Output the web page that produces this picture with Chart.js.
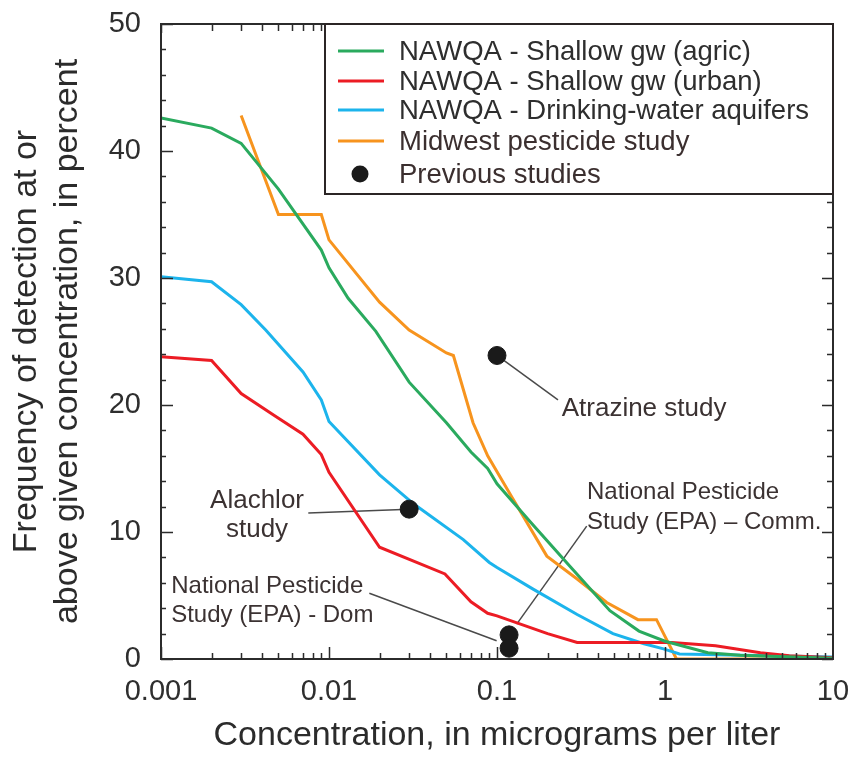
<!DOCTYPE html>
<html><head><meta charset="utf-8">
<script src="https://cdn.jsdelivr.net/npm/chart.js@4/dist/chart.umd.min.js"></script>
<style>html,body{margin:0;padding:0;background:#fff}canvas{display:block}</style>
</head><body>
<canvas id="c" width="862" height="759"></canvas>
<script>
// ---- data ----
const agricConc = [0.001, 0.002, 0.003, 0.005, 0.009, 0.01, 0.013, 0.019, 0.03, 0.05, 0.07, 0.088, 0.1, 0.16, 0.28, 0.47, 0.7, 1.0, 1.8, 2.8, 10];
const agricFreq = [42.6, 41.8, 40.6, 37.0, 32.2, 30.8, 28.4, 25.8, 21.8, 18.6, 16.3, 15.0, 13.8, 10.7, 7.1, 3.8, 2.2, 1.4, 0.5, 0.3, 0.05];

const urbanConc = [0.001, 0.002, 0.003, 0.0047, 0.007, 0.009, 0.01, 0.02, 0.049, 0.07, 0.088, 0.1, 0.2, 0.3, 1.1, 2.0, 3.7, 5.5, 10];
const urbanFreq = [23.8, 23.5, 20.9, 19.2, 17.7, 16.1, 14.7, 8.8, 6.7, 4.5, 3.6, 3.4, 2.0, 1.3, 1.3, 1.05, 0.5, 0.25, 0.1];

const drinkConc = [0.001, 0.002, 0.003, 0.0042, 0.007, 0.009, 0.01, 0.02, 0.032, 0.063, 0.09, 0.1, 0.164, 0.3, 0.49, 0.75, 0.98, 1.22, 10];
const drinkFreq = [30.1, 29.7, 27.9, 25.9, 22.6, 20.4, 18.7, 14.5, 12.2, 9.4, 7.6, 7.2, 5.5, 3.5, 2.0, 1.2, 0.8, 0.4, 0.15];

const midwestConc = [0.003, 0.005, 0.009, 0.01, 0.02, 0.03, 0.05, 0.055, 0.072, 0.088, 0.122, 0.198, 0.3, 0.45, 0.69, 0.89, 1.17, 10];
const midwestFreq = [42.8, 35.0, 35.0, 33.0, 28.1, 25.9, 24.1, 23.9, 18.6, 16.0, 12.8, 8.1, 6.3, 4.45, 3.1, 3.1, 0, 0];

const previousNames = ['Atrazine study', 'Alachlor study', 'National Pesticide Study (EPA) – Comm.', 'National Pesticide Study (EPA) - Dom'];
const previousConc = [0.1, 0.03, 0.118, 0.118];
const previousFreq = [23.9, 11.8, 1.9, 0.85];

const seriesLabels = ['NAWQA - Shallow gw (agric)', 'NAWQA - Shallow gw (urban)', 'NAWQA - Drinking-water aquifers', 'Midwest pesticide study', 'Previous studies'];
const xTickValues = [0.001, 0.01, 0.1, 1, 10];
const xTickLabels = ['0.001', '0.01', '0.1', '1', '10'];
const yTickValues = [0, 10, 20, 30, 40, 50];
const xTitle = 'Concentration, in micrograms per liter';
const yTitle = ['Frequency of detection at or', 'above given concentration, in percent'];

// annotation texts (anchored in data units) and leader lines
const noteTexts = [
  { lines: ['Atrazine study'], at: [0.2427, 19.15], size: 26, gap: 29, align: 'left' },
  { lines: ['Alachlor', 'study'], at: [0.00373, 11.9], size: 26, gap: 29, align: 'center' },
  { lines: ['National Pesticide', 'Study (EPA) - Dom'], at: [0.00115, 5.18], size: 24, gap: 29, align: 'left' },
  { lines: ['National Pesticide', 'Study (EPA) – Comm.'], at: [0.3434, 12.56], size: 24, gap: 30, align: 'left' }
];
const noteLeaders = [
  [[0.1, 23.9], [0.2307, 20.4]],
  [[0.03, 11.8], [0.00753, 11.5]],
  [[0.0995, 1.44], [0.01738, 5.18]],
  [[0.131, 2.75], [0.342, 10.46]]
];

const COLORS = ['#2aaa5e', '#ec1c24', '#1cb4ec', '#f7941e', '#1a1a1a'];
const FONT = '"Liberation Sans", Arial, Helvetica, sans-serif';
const TEXT = '#2e2e2e';

const pts = (xs, ys) => xs.map((x, i) => ({ x: x, y: ys[i] }));

const lineDS = (i, xs, ys) => ({
  type: 'line', label: seriesLabels[i], data: pts(xs, ys),
  borderColor: COLORS[i], backgroundColor: COLORS[i], borderWidth: 3,
  pointRadius: 0, pointHoverRadius: 0, tension: 0, fill: false, order: 2
});

const framePlugin = {
  id: 'frameTicksNotes',
  beforeDatasetsDraw(chart) {
    const { ctx, scales: { x, y } } = chart;
    ctx.save();
    ctx.strokeStyle = '#4a4a4a';
    ctx.lineWidth = 1.5;
    noteLeaders.forEach(([a, b]) => {
      ctx.beginPath();
      ctx.moveTo(x.getPixelForValue(a[0]), y.getPixelForValue(a[1]));
      ctx.lineTo(x.getPixelForValue(b[0]), y.getPixelForValue(b[1]));
      ctx.stroke();
    });
    ctx.restore();
  },
  afterDraw(chart) {
    const { ctx, chartArea: ca, scales: { x, y } } = chart;
    ctx.save();
    // ticks, inward on all four sides
    ctx.strokeStyle = '#2b2b2b';
    ctx.lineWidth = 1.5;
    for (let e = -3; e <= 0; e++) {
      for (let m = 1; m <= 9; m++) {
        const v = m * Math.pow(10, e);
        const px = Math.round(x.getPixelForValue(v)) + 0.5;
        const major = m === 1;
        ctx.beginPath();
        ctx.moveTo(px, ca.bottom); ctx.lineTo(px, ca.bottom - (major ? 12 : 6));
        ctx.moveTo(px, ca.top); ctx.lineTo(px, ca.top + (major ? 9 : 7));
        ctx.stroke();
      }
    }
    for (let v = 0; v <= 50; v += 2) {
      const py = Math.round(y.getPixelForValue(v)) + 0.5;
      const major = v % 10 === 0;
      ctx.beginPath();
      ctx.moveTo(ca.left, py); ctx.lineTo(ca.left + (major ? 12 : 5), py);
      ctx.moveTo(ca.right, py); ctx.lineTo(ca.right - (major ? 11 : 6), py);
      ctx.stroke();
    }
    // frame
    ctx.lineWidth = 2;
    ctx.strokeRect(ca.left, ca.top, ca.right - ca.left, ca.bottom - ca.top);

    // annotation texts
    ctx.fillStyle = '#3b3232';
    ctx.textBaseline = 'alphabetic';
    noteTexts.forEach(n => {
      ctx.font = n.size + 'px ' + FONT;
      ctx.textAlign = n.align;
      const px = x.getPixelForValue(n.at[0]);
      const py = y.getPixelForValue(n.at[1]);
      n.lines.forEach((t, i) => ctx.fillText(t, px, py + i * n.gap));
    });

    // legend box
    const lx = ca.left + 164, ly = ca.top, lw = ca.right - lx, lh = 170;
    ctx.fillStyle = '#ffffff';
    ctx.fillRect(lx, ly, lw, lh);
    ctx.strokeStyle = '#2b2525';
    ctx.lineWidth = 2;
    ctx.strokeRect(lx, ly, lw, lh);
    const rowY = [27, 57, 86, 117, 150];
    ctx.font = '27.5px ' + FONT;
    ctx.textAlign = 'left';
    ctx.textBaseline = 'middle';
    chart.data.datasets.forEach((ds, i) => {
      const cy = ly + rowY[i];
      if (i < 4) {
        ctx.strokeStyle = ds.borderColor;
        ctx.lineWidth = 3;
        ctx.beginPath();
        ctx.moveTo(lx + 13, cy); ctx.lineTo(lx + 59, cy);
        ctx.stroke();
      } else {
        ctx.fillStyle = ds.backgroundColor;
        ctx.beginPath();
        ctx.arc(lx + 35, cy, 8.5, 0, Math.PI * 2);
        ctx.fill();
      }
      ctx.fillStyle = i < 3 ? '#2e2e2e' : '#3b2f2f';
      ctx.fillText(ds.label, lx + 74, cy + 1);
    });
    ctx.restore();
  }
};

new Chart(document.getElementById('c'), {
  data: {
    datasets: [
      lineDS(0, agricConc, agricFreq),
      lineDS(1, urbanConc, urbanFreq),
      lineDS(2, drinkConc, drinkFreq),
      lineDS(3, midwestConc, midwestFreq),
      {
        type: 'scatter', label: seriesLabels[4], data: pts(previousConc, previousFreq),
        backgroundColor: COLORS[4], borderColor: COLORS[4], pointRadius: 9, pointHoverRadius: 9,
        showLine: false, order: 1
      }
    ]
  },
  options: {
    responsive: false,
    devicePixelRatio: 1,
    animation: false,
    events: [],
    layout: { padding: { left: 0, top: 24, right: 29, bottom: 0 } },
    plugins: { legend: { display: false }, tooltip: { enabled: false }, title: { display: false } },
    scales: {
      x: {
        type: 'logarithmic', position: 'bottom', min: 0.001, max: 10,
        afterFit(s) { s.height = 100; s.paddingLeft = 0; s.paddingRight = 0; },
        grid: { display: false, drawTicks: false },
        border: { display: false },
        ticks: {
          autoSkip: false, maxRotation: 0, padding: 16,
          color: TEXT, font: { family: FONT, size: 29 },
          callback(v) {
            const k = xTickValues.findIndex(t => Math.abs(Math.log10(t) - Math.log10(v)) < 1e-6);
            return k >= 0 ? xTickLabels[k] : '';
          }
        },
        title: { display: true, text: xTitle, color: '#2b2b2b', font: { family: FONT, size: 34, lineHeight: 1.2 }, padding: { top: 0, bottom: 2.5 } }
      },
      y: {
        type: 'linear', position: 'left', min: 0, max: 50,
        afterFit(s) { s.width = 161; s.paddingTop = 0; s.paddingBottom = 0; },
        afterBuildTicks(s) { s.ticks = yTickValues.map(v => ({ value: v })); },
        grid: { display: false, drawTicks: false },
        border: { display: false },
        ticks: { padding: 20, color: TEXT, font: { family: FONT, size: 29 } },
        title: { display: true, text: yTitle, color: '#2b2b2b', font: { family: FONT, size: 34, lineHeight: '41px' }, padding: { top: 6, bottom: 0 } }
      }
    }
  },
  plugins: [framePlugin]
});
</script>
</body></html>
